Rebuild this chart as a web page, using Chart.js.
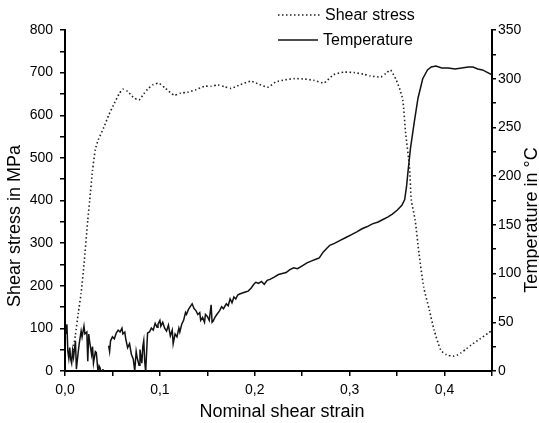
<!DOCTYPE html>
<html>
<head>
<meta charset="utf-8">
<script src="https://cdn.jsdelivr.net/npm/chart.js@4/dist/chart.umd.min.js"></script>
<style>
  html, body { margin: 0; padding: 0; background: #fff; }
  canvas { display: block; }
</style>
</head>
<body>
<canvas id="shearChart" width="539" height="423"></canvas>
<script>
// ========================
//    data
// ========================

// shear stress (MPa, left axis)
const stressStrain = [0.008, 0.011, 0.014, 0.017, 0.020, 0.024, 0.026, 0.029, 0.032, 0.035, 0.041, 0.046,
  0.052, 0.057, 0.061, 0.066, 0.072, 0.078, 0.083, 0.087, 0.093, 0.099, 0.106, 0.115, 0.122, 0.129,
  0.138, 0.147, 0.154, 0.161, 0.168, 0.175, 0.185, 0.196, 0.205, 0.214, 0.222, 0.232, 0.242, 0.252,
  0.262, 0.273, 0.283, 0.294, 0.305, 0.315, 0.322, 0.333, 0.338, 0.343, 0.349, 0.353, 0.356, 0.359,
  0.363, 0.365, 0.369, 0.373, 0.378, 0.384, 0.389, 0.396, 0.402, 0.409, 0.413, 0.417, 0.423, 0.428,
  0.437, 0.446, 0.450];
const stressValues = [40, 85, 136, 183, 250, 354, 400, 470, 520, 542, 572, 600,
  628, 650, 661, 656, 642, 636, 650, 661, 672, 675, 663, 647, 652, 654,
  660, 668, 668, 671, 667, 663, 672, 680, 672, 666, 678, 683, 686, 685,
  682, 676, 695, 701, 700, 696, 692, 690, 698, 706, 683, 660, 636, 558,
  479, 401, 354, 277, 197, 143, 96, 49, 38, 35, 37, 42, 52, 61,
  75, 89, 95];

// temperature (°C, right axis) - null = gap in the trace
const tempStrain = [0.001, 0.002, 0.003, 0.004, 0.005, 0.006, 0.007, 0.008, 0.009, 0.011, 0.012, 0.014,
  0.015, 0.017, 0.018, 0.020, 0.021, 0.023, 0.024, 0.025, 0.026, 0.028, 0.029, 0.030, 0.032, 0.033,
  0.035, 0.036, 0.037, 0.039, 0.040, 0.043,
  0.046, 0.047, 0.048, 0.050, 0.052, 0.054, 0.056, 0.058, 0.060, 0.061, 0.063, 0.064, 0.066, 0.068,
  0.070, 0.072, 0.0735, 0.075, 0.076, 0.078, 0.079, 0.080, 0.081, 0.082, 0.083, 0.084, 0.085, 0.087,
  0.089, 0.091, 0.093, 0.095, 0.097, 0.098, 0.100, 0.101, 0.103, 0.105, 0.107, 0.109, 0.111, 0.113,
  0.114, 0.116, 0.118, 0.120, 0.121, 0.123, 0.125, 0.127, 0.128, 0.130, 0.132, 0.134, 0.136, 0.138,
  0.140, 0.142, 0.143, 0.145, 0.147, 0.148, 0.150, 0.152, 0.154, 0.155, 0.156, 0.158, 0.160, 0.163,
  0.165, 0.167, 0.170, 0.172, 0.174, 0.176, 0.178, 0.180, 0.182, 0.184, 0.187, 0.190, 0.193, 0.196,
  0.199, 0.201, 0.204, 0.207, 0.210, 0.213, 0.216, 0.220, 0.225, 0.229, 0.233, 0.237, 0.241, 0.245,
  0.250, 0.255, 0.260, 0.265, 0.268, 0.272, 0.276, 0.279, 0.284, 0.290, 0.296, 0.302, 0.308, 0.313,
  0.318, 0.324, 0.330, 0.334, 0.340, 0.345, 0.350, 0.355, 0.358, 0.360, 0.361, 0.364, 0.368, 0.372,
  0.377, 0.382, 0.386, 0.391, 0.397, 0.404, 0.411, 0.418, 0.425, 0.430, 0.435, 0.440, 0.446, 0.450];
const tempValues = [38, 48, 20, 13, 24, 12, 8, 21, 14, 31, 2, 20,
  28, 41, 35, 46, 38, 40, 10, 38, 30, 17, 25, 8, 20, 19,
  -3, 5, 3, -5, 2, null,
  26, 20, 31, 35, 33, 39, 42, 40, 44, 38, 40, 33, 24, 28,
  17, 12, 0, 20, 14, 6, 22, 15, 8, 25, 31, 10, -1, 39,
  40, 44, 42, 49, 45, 48, 52, 46, 50, 44, 41, 47, 36, 42,
  28, 38, 35, 44, 40, 48, 52, 60, 58, 63, 66, 69, 64, 62,
  58, 60, 52, 55, 50, 58, 56, 52, 68, 50, 51, 55, 58, 62,
  66, 64, 69, 67, 74, 70, 76, 74, 78, 79, 80, 81, 82, 85,
  89, 91, 90, 92, 89, 93, 94, 96, 99, 100, 101, 104, 106, 105,
  108, 111, 113, 115, 116, 122, 126, 129, 131, 134, 137, 140, 143, 146,
  148, 151, 153, 155, 158, 161, 165, 170, 176, 190, 200, 228, 255, 280,
  300, 309, 312, 313, 311, 311, 310, 311, 312, 312, 310, 309, 306, 304];

// axis labels
const xTitle = "Nominal shear strain";
const yTitle = "Shear stress in MPa";
const y2Title = "Temperature in °C";

const FONT = "Arial, 'Liberation Sans', sans-serif";

// =========================
// legend + axis titles drawn by hand
// =========================
const handDrawn = {
  id: 'handDrawn',
  afterDraw(chart) {
    const ctx = chart.ctx;
    ctx.save();
    ctx.fillStyle = '#000';

    // legend, upper right
    const rows = [15, 40];
    chart.data.datasets.forEach((ds, i) => {
      const y = rows[i];
      ctx.strokeStyle = ds.borderColor;
      ctx.lineWidth = ds.borderWidth;
      ctx.setLineDash(ds.borderDash || []);
      ctx.beginPath();
      ctx.moveTo(278, y);
      ctx.lineTo(i === 0 ? 321 : 318, y);
      ctx.stroke();
      ctx.setLineDash([]);
      ctx.font = "16px " + FONT;
      ctx.textBaseline = 'middle';
      ctx.textAlign = 'left';
      ctx.fillText(ds.label, i === 0 ? 325 : 323, y + 1);
    });

    ctx.font = "18px " + FONT;
    ctx.textAlign = 'center';
    ctx.textBaseline = 'middle';

    // x title
    ctx.fillText(xTitle, 282, 412);

    // left title
    ctx.save();
    ctx.translate(15, 226);
    ctx.rotate(-Math.PI / 2);
    ctx.fillText(yTitle, 0, 0);
    ctx.restore();

    // right title (runs off the edge in the original)
    ctx.save();
    ctx.translate(532, 220);
    ctx.rotate(-Math.PI / 2);
    ctx.fillText(y2Title, 0, 0);
    ctx.restore();

    ctx.restore();
  }
};

const isMajor = (v, step) => Math.abs(v / step - Math.round(v / step)) < 1e-6;

new Chart(document.getElementById("shearChart"), {
  type: "line",
  data: {
    datasets: [{
      label: "Shear stress",
      data: stressStrain.map((x, i) => ({ x, y: stressValues[i] })),
      yAxisID: "y",
      borderColor: "#222",
      borderWidth: 1.6,
      borderDash: [1.5, 2.5],
      pointRadius: 0,
      tension: 0.2
    }, {
      label: "Temperature",
      data: tempStrain.map((x, i) => ({ x, y: tempValues[i] })),
      yAxisID: "y2",
      borderColor: "#111",
      borderWidth: 1.5,
      pointRadius: 0,
      spanGaps: false,
      tension: 0
    }]
  },
  options: {
    responsive: false,
    animation: false,
    devicePixelRatio: 1,
    layout: { padding: { top: 30, left: 0, right: 0, bottom: 0 } },
    plugins: { legend: { display: false }, tooltip: { enabled: false } },
    scales: {
      x: {
        type: "linear",
        min: 0, max: 0.45,
        grid: { drawOnChartArea: false, tickLength: 5, color: "#000", lineWidth: 1.5 },
        border: { color: "#000", width: 2 },
        ticks: {
          stepSize: 0.05,
          autoSkip: false,
          maxRotation: 0,
          padding: 6,
          color: "#000",
          font: { size: 14, family: FONT },
          callback: v => isMajor(v, 0.1) ? v.toFixed(1).replace(".", ",") : ""
        },
        afterFit: s => { s.height = 52; }
      },
      y: {
        position: "left",
        min: 0, max: 800,
        grid: { drawOnChartArea: false, tickLength: 5, color: "#000", lineWidth: 1.5 },
        border: { color: "#000", width: 2 },
        ticks: {
          stepSize: 50,
          autoSkip: false,
          padding: 7,
          color: "#000",
          font: { size: 14, family: FONT },
          callback: v => isMajor(v, 100) ? v : ""
        },
        afterFit: s => { s.width = 65; }
      },
      y2: {
        position: "right",
        min: 0, max: 350,
        grid: { drawOnChartArea: false, tickLength: 4, color: "#000", lineWidth: 1.5 },
        border: { color: "#000", width: 2 },
        ticks: {
          stepSize: 25,
          autoSkip: false,
          padding: 2,
          color: "#000",
          font: { size: 14, family: FONT },
          callback: v => isMajor(v, 50) ? v : ""
        },
        afterFit: s => { s.width = 47; }
      }
    }
  },
  plugins: [handDrawn]
});
</script>
</body>
</html>
